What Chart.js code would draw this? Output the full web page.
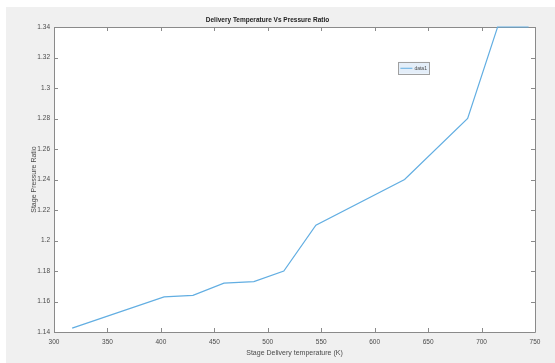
<!DOCTYPE html>
<html>
<head>
<meta charset="utf-8">
<script src="https://cdn.jsdelivr.net/npm/chart.js@4.4.1/dist/chart.umd.min.js"></script>
<style>
  html, body { margin: 0; padding: 0; background: #ffffff; }
  #wrap { width: 555px; height: 363px; }
</style>
</head>
<body>
<div id="wrap"><canvas id="c" width="555" height="363"></canvas></div>
<script>
// Stage delivery temperature (K) against stage pressure ratio
const deliveryTemp = [317, 403, 430, 459, 487, 515, 545, 628, 687, 715, 744];
const pressureRatio = [1.1425, 1.163, 1.164, 1.172, 1.173, 1.18, 1.21, 1.24, 1.28, 1.34, 1.34];
const seriesName = 'data1';
const xTicks = [300, 350, 400, 450, 500, 550, 600, 650, 700, 750];
const yTicks = [1.14, 1.16, 1.18, 1.2, 1.22, 1.24, 1.26, 1.28, 1.3, 1.32, 1.34];

const points = deliveryTemp.map((t, i) => ({ x: t, y: pressureRatio[i] }));

const FONT = 'Liberation Sans, Arial, sans-serif';
const AXIS_GREY = '#8a8a8a';
const TEXT_GREY = '#4a4a4a';

// Figure backdrop: grey panel with a thin white margin on the top and left
const backdrop = {
  id: 'backdrop',
  beforeDraw(chart) {
    const { ctx, width, height } = chart;
    ctx.save();
    ctx.fillStyle = '#ffffff';
    ctx.fillRect(0, 0, width, height);
    ctx.fillStyle = '#f0f0f0';
    ctx.fillRect(6, 7, width - 6, height - 7);
    const a = chart.chartArea;
    ctx.fillStyle = '#ffffff';
    ctx.fillRect(a.left, a.top, a.right - a.left, a.bottom - a.top);
    ctx.restore();
  }
};

// Boxed axes with inward tick marks on all four sides (under the data line)
const boxAxes = {
  id: 'boxAxes',
  beforeDatasetsDraw(chart) {
    const { ctx } = chart;
    const a = chart.chartArea;
    const xs = chart.scales.x, ys = chart.scales.y;
    const tl = 4;
    ctx.save();
    ctx.strokeStyle = AXIS_GREY;
    ctx.lineWidth = 1;
    ctx.beginPath();
    ctx.rect(Math.round(a.left) + 0.5, Math.round(a.top) + 0.5,
             Math.round(a.right - a.left), Math.round(a.bottom - a.top));
    ctx.stroke();
    ctx.beginPath();
    xs.ticks.forEach(t => {
      const px = Math.round(xs.getPixelForValue(t.value)) + 0.5;
      ctx.moveTo(px, a.bottom); ctx.lineTo(px, a.bottom - tl);
      ctx.moveTo(px, a.top); ctx.lineTo(px, a.top + tl);
    });
    ys.ticks.forEach(t => {
      const py = Math.round(ys.getPixelForValue(t.value)) + 0.5;
      ctx.moveTo(a.left, py); ctx.lineTo(a.left + tl, py);
      ctx.moveTo(a.right, py); ctx.lineTo(a.right - tl, py);
    });
    ctx.stroke();
    ctx.restore();
  }
};

// Legend box inside the axes
const legendBox = {
  id: 'legendBox',
  afterDraw(chart) {
    const { ctx } = chart;
    const a = chart.chartArea;
    const ds = chart.data.datasets[0];
    const lx = a.left + (a.right - a.left) * 0.716;
    const ly = a.top + (a.bottom - a.top) * 0.114;
    const lw = 31, lh = 12;
    ctx.save();
    ctx.fillStyle = '#e4eef9';
    ctx.fillRect(lx, ly, lw, lh);
    ctx.strokeStyle = '#a0a0a0';
    ctx.lineWidth = 1;
    ctx.strokeRect(Math.round(lx) + 0.5, Math.round(ly) + 0.5, lw, lh);
    ctx.strokeStyle = ds.borderColor;
    ctx.beginPath();
    ctx.moveTo(lx + 2, ly + lh / 2 + 0.5);
    ctx.lineTo(lx + 14, ly + lh / 2 + 0.5);
    ctx.stroke();
    ctx.fillStyle = TEXT_GREY;
    ctx.font = '5px ' + FONT;
    ctx.textBaseline = 'middle';
    ctx.textAlign = 'left';
    ctx.fillText(ds.label, lx + 16, ly + lh / 2 + 0.5);
    ctx.restore();
  }
};

new Chart(document.getElementById('c'), {
  type: 'line',
  data: {
    datasets: [{
      label: seriesName,
      data: points,
      borderColor: '#62aee2',
      borderWidth: 1.2,
      pointRadius: 0,
      fill: false,
      tension: 0,
      clip: 2
    }]
  },
  options: {
    responsive: false,
    animation: false,
    devicePixelRatio: 1,
    layout: { padding: { left: 0, right: 20, top: 0, bottom: 0 } },
    plugins: {
      legend: { display: false },
      tooltip: { enabled: false },
      title: {
        display: true,
        text: 'Delivery Temperature Vs Pressure Ratio',
        color: '#222222',
        font: { family: FONT, size: 6.5, weight: 'bold' },
        padding: { top: 16.6, bottom: 2.6 }
      }
    },
    scales: {
      x: {
        type: 'linear',
        min: 300, max: 750,
        afterBuildTicks(scale) { scale.ticks = xTicks.map(v => ({ value: v })); },
        afterFit(scale) { scale.height = 31; },
        grid: { display: false, drawTicks: false },
        border: { display: false },
        ticks: { color: TEXT_GREY, padding: 6, maxRotation: 0, autoSkip: false,
                 font: { family: FONT, size: 6.5 } },
        title: { display: true, text: 'Stage Delivery temperature (K)', color: TEXT_GREY,
                 font: { family: FONT, size: 7 }, padding: { top: 0, bottom: 6 } }
      },
      y: {
        type: 'linear',
        min: 1.14, max: 1.34,
        afterBuildTicks(scale) { scale.ticks = yTicks.map(v => ({ value: v })); },
        afterFit(scale) { scale.width = 54; },
        grid: { display: false, drawTicks: false },
        border: { display: false },
        ticks: { color: TEXT_GREY, padding: 4, autoSkip: false,
                 font: { family: FONT, size: 6.5 },
                 callback: v => String(Math.round(v * 100) / 100) },
        title: { display: true, text: 'Stage Pressure Ratio', color: TEXT_GREY,
                 font: { family: FONT, size: 7 }, padding: { top: 30, bottom: 0 } }
      }
    }
  },
  plugins: [backdrop, boxAxes, legendBox]
});
</script>
</body>
</html>
